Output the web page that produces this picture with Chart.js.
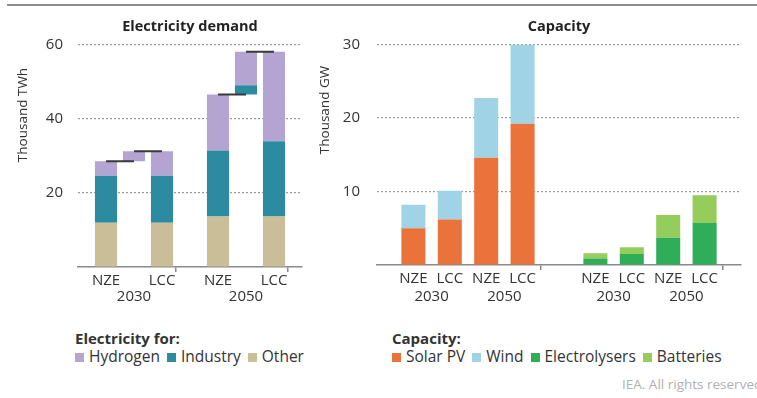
<!DOCTYPE html>
<html>
<head>
<meta charset="utf-8">
<script src="https://cdn.jsdelivr.net/npm/chart.js@4/dist/chart.umd.min.js"></script>
<style>
  body { margin:0; background:#fff; width:757px; height:398px; position:relative; overflow:hidden; font-family:"Open Sans", Lato, sans-serif; color:#333; }
  #rule { position:absolute; left:7px; right:0; top:4px; height:2px; background:#8d8d8d; }
  canvas { position:absolute; top:0; }
  #demandChart { left:0; }
  #capacityChart { left:310px; }
  .legend { position:absolute; top:329px; font-size:15.5px; line-height:18px; }
  .legend .head { font-weight:bold; font-size:15px; }
  .legend .item { margin-right:7px; }
  .legend .box { display:inline-block; width:9px; height:9px; margin-right:5px; vertical-align:0px; }
  #demandLegend { left:75px; }
  #capacityLegend { left:392px; }
  #credit { position:absolute; left:622px; top:375px; font-size:13.5px; color:#b0b0b0; white-space:nowrap; }
</style>
</head>
<body>
<div id="rule"></div>
<canvas id="demandChart" width="310" height="310"></canvas>
<canvas id="capacityChart" width="447" height="310"></canvas>
<div class="legend" id="demandLegend"></div>
<div class="legend" id="capacityLegend"></div>
<div id="credit">IEA. All rights reserved</div>
<script>
// Scenarios and years (order: NZE 2030, LCC 2030, NZE 2050, LCC 2050)
const scenarios = ['NZE', 'LCC'];
const years = ['2030', '2050'];

// Electricity demand, thousand TWh (segment heights)
const demandOther = [11.9, 11.9, 13.6, 13.6];
const demandIndustry = [12.7, 12.7, 17.8, 20.3];
const demandHydrogen = [3.9, 6.6, 15.1, 24.1];

// Capacity, thousand GW (segment heights)
const capSolar = [5.0, 6.2, 14.6, 19.2];
const capWind = [3.2, 3.9, 8.1, 10.8];
const capElectrolysers = [0.9, 1.5, 3.7, 5.7];
const capBatteries = [0.7, 0.9, 3.1, 3.8];

const demandTicks = [0, 20, 40, 60];
const capacityTicks = [0, 10, 20, 30];

const colors = {
  hydrogen: '#b3a4d1', industry: '#2d8ba1', other: '#c9be98',
  solar: '#e9733a', wind: '#9fd3e5', electrolysers: '#2fad58', batteries: '#94cd5b',
  link: '#3a3a3a', grid: '#9a9a9a', axis: '#8a8a8a', text: '#333'
};
const FONT = '"Open Sans", Lato, sans-serif';
Chart.defaults.font.family = FONT;
Chart.defaults.font.size = 15;
Chart.defaults.color = colors.text;

// ---------- helpers ----------
const sumAt = (arrs, i) => arrs.reduce((a, s) => a + s[i], 0);

// year labels under pairs of categories
const groupLabels = {
  id: 'groupLabels',
  afterDraw(chart, args, opts) {
    const x = chart.scales.x, ctx = chart.ctx;
    ctx.save();
    ctx.font = '15px ' + FONT;
    ctx.fillStyle = colors.text;
    ctx.textAlign = 'center';
    ctx.textBaseline = 'middle';
    opts.groups.forEach(g => {
      const px = (x.getPixelForValue(g.from) + x.getPixelForValue(g.to)) / 2;
      ctx.fillText(g.text, px, x.top + opts.offset);
    });
    ctx.restore();
  }
};

// rotated axis title
const sideTitle = {
  id: 'sideTitle',
  afterDraw(chart, args, opts) {
    const ctx = chart.ctx;
    ctx.save();
    ctx.translate(opts.x, opts.y);
    ctx.rotate(-Math.PI / 2);
    ctx.font = '13.5px ' + FONT;
    ctx.fillStyle = colors.text;
    ctx.textAlign = 'center';
    ctx.textBaseline = 'middle';
    ctx.fillText(opts.text, 0, 0);
    ctx.restore();
  }
};

function xScale(tickIdx, height) {
  return {
    offset: false,
    stacked: true,
    afterFit: s => { s.height = height; },
    border: { display: true, color: colors.axis, width: 1.5 },
    grid: {
      drawOnChartArea: false, drawTicks: true, tickLength: 5, lineWidth: 1.5,
      color: c => tickIdx.includes(c.index) ? colors.axis : 'rgba(0,0,0,0)'
    },
    ticks: { autoSkip: false, maxRotation: 0, padding: 0 }
  };
}

function yScale(ticks, width, pad) {
  return {
    stacked: true,
    min: ticks[0], max: ticks[ticks.length - 1],
    afterFit: s => { s.width = width; },
    afterBuildTicks: s => { s.ticks = ticks.map(v => ({ value: v })); },
    border: { display: false, dash: [2, 2] },
    grid: { drawTicks: false, lineWidth: 1.2, color: c => c.tick.value === 0 ? 'rgba(0,0,0,0)' : colors.grid },
    ticks: { padding: pad, callback: v => v === 0 ? '' : v }
  };
}

// ---------- electricity demand ----------
// slots: '', NZE, step, LCC, '', NZE, step, LCC, ''
const dLabels = ['', 'NZE', '', 'LCC', '', 'NZE', '', 'LCC', ''];
const dSlot = (y, s) => 1 + y * 4 + s * 2;
const dStep = y => 2 + y * 4;
const emptyD = () => dLabels.map(() => null);

function demandSeries(arr, withStep) {
  const out = emptyD();
  years.forEach((yr, y) => {
    scenarios.forEach((sc, s) => { out[dSlot(y, s)] = arr[y * 2 + s]; });
    if (withStep) out[dStep(y)] = +(arr[y * 2 + 1] - arr[y * 2]).toFixed(2);
  });
  return out;
}
const demandParts = [demandOther, demandIndustry, demandHydrogen];
const stepBase = emptyD(), linkA = emptyD(), linkB = emptyD();
years.forEach((yr, y) => {
  const nze = sumAt(demandParts, y * 2), lcc = sumAt(demandParts, y * 2 + 1);
  stepBase[dStep(y)] = nze;
  linkA[dSlot(y, 0)] = nze; linkA[dStep(y)] = nze;
  linkB[dStep(y)] = lcc; linkB[dSlot(y, 1)] = lcc;
});

const barD = { type: 'bar', stack: 'd', order: 1, categoryPercentage: 0.79, barPercentage: 1, borderWidth: 0 };
const linkStyle = { type: 'line', order: 0, borderColor: colors.link, borderWidth: 2, pointRadius: 0, spanGaps: false };

new Chart(document.getElementById('demandChart'), {
  type: 'bar',
  data: {
    labels: dLabels,
    datasets: [
      { ...barD, label: 'base', data: stepBase, backgroundColor: 'rgba(0,0,0,0)' },
      { ...barD, label: 'Other', data: demandSeries(demandOther, false), backgroundColor: colors.other },
      { ...barD, label: 'Industry', data: demandSeries(demandIndustry, true), backgroundColor: colors.industry },
      { ...barD, label: 'Hydrogen', data: demandSeries(demandHydrogen, true), backgroundColor: colors.hydrogen },
      { ...linkStyle, label: 'a', stack: 'la', data: linkA },
      { ...linkStyle, label: 'b', stack: 'lb', data: linkB }
    ]
  },
  options: {
    responsive: false, animation: false,
    layout: { padding: { left: 0, right: 8, top: 0, bottom: 0 } },
    scales: { x: xScale([0, 4, 8], 43), y: yScale(demandTicks, 78, 15) },
    plugins: {
      legend: { display: false }, tooltip: { enabled: false },
      title: { display: true, text: 'Electricity demand', fullSize: false, color: '#222',
               font: { size: 14.5, weight: 'bold' }, padding: { top: 18, bottom: 9 } },
      groupLabels: { offset: 30, groups: years.map((t, y) => ({ text: t, from: dSlot(y, 0), to: dSlot(y, 1) })) },
      sideTitle: { text: 'Thousand TWh', x: 23, y: 115 }
    }
  },
  plugins: [groupLabels, sideTitle]
});

// ---------- capacity ----------
// slots: '', NZE, LCC, NZE, LCC, '', NZE, LCC, NZE, LCC, ''
const cLabels = ['', 'NZE', 'LCC', 'NZE', 'LCC', '', 'NZE', 'LCC', 'NZE', 'LCC', ''];
function capSeries(arr, start) {
  const out = cLabels.map(() => null);
  arr.forEach((v, i) => { out[start + i] = v; });
  return out;
}
const barC = { stack: 'c', categoryPercentage: 0.66, barPercentage: 1, borderWidth: 0 };
const capGroups = [];
[1, 6].forEach(start => years.forEach((t, y) => capGroups.push({ text: t, from: start + y * 2, to: start + y * 2 + 1 })));

new Chart(document.getElementById('capacityChart'), {
  type: 'bar',
  data: {
    labels: cLabels,
    datasets: [
      { ...barC, label: 'Solar PV', data: capSeries(capSolar, 1), backgroundColor: colors.solar },
      { ...barC, label: 'Wind', data: capSeries(capWind, 1), backgroundColor: colors.wind },
      { ...barC, label: 'Electrolysers', data: capSeries(capElectrolysers, 6), backgroundColor: colors.electrolysers },
      { ...barC, label: 'Batteries', data: capSeries(capBatteries, 6), backgroundColor: colors.batteries }
    ]
  },
  options: {
    responsive: false, animation: false,
    layout: { padding: { left: 0, right: 16, top: 0, bottom: 0 } },
    scales: { x: xScale([0, 5, 10], 45), y: yScale(capacityTicks, 67, 17) },
    plugins: {
      legend: { display: false }, tooltip: { enabled: false },
      title: { display: true, text: 'Capacity', fullSize: false, color: '#222',
               font: { size: 14.5, weight: 'bold' }, padding: { top: 18, bottom: 9 } },
      groupLabels: { offset: 32, groups: capGroups },
      sideTitle: { text: 'Thousand GW', x: 15, y: 110 }
    }
  },
  plugins: [groupLabels, sideTitle]
});

// ---------- legends ----------
function buildLegend(el, head, items) {
  el.innerHTML = '<div class="head">' + head + '</div>' + items.map(([name, col]) =>
    '<span class="item"><span class="box" style="background:' + col + '"></span>' + name + '</span>').join('');
}
buildLegend(document.getElementById('demandLegend'), 'Electricity for:',
  [['Hydrogen', colors.hydrogen], ['Industry', colors.industry], ['Other', colors.other]]);
buildLegend(document.getElementById('capacityLegend'), 'Capacity:',
  [['Solar PV', colors.solar], ['Wind', colors.wind], ['Electrolysers', colors.electrolysers], ['Batteries', colors.batteries]]);
</script>
</body>
</html>
